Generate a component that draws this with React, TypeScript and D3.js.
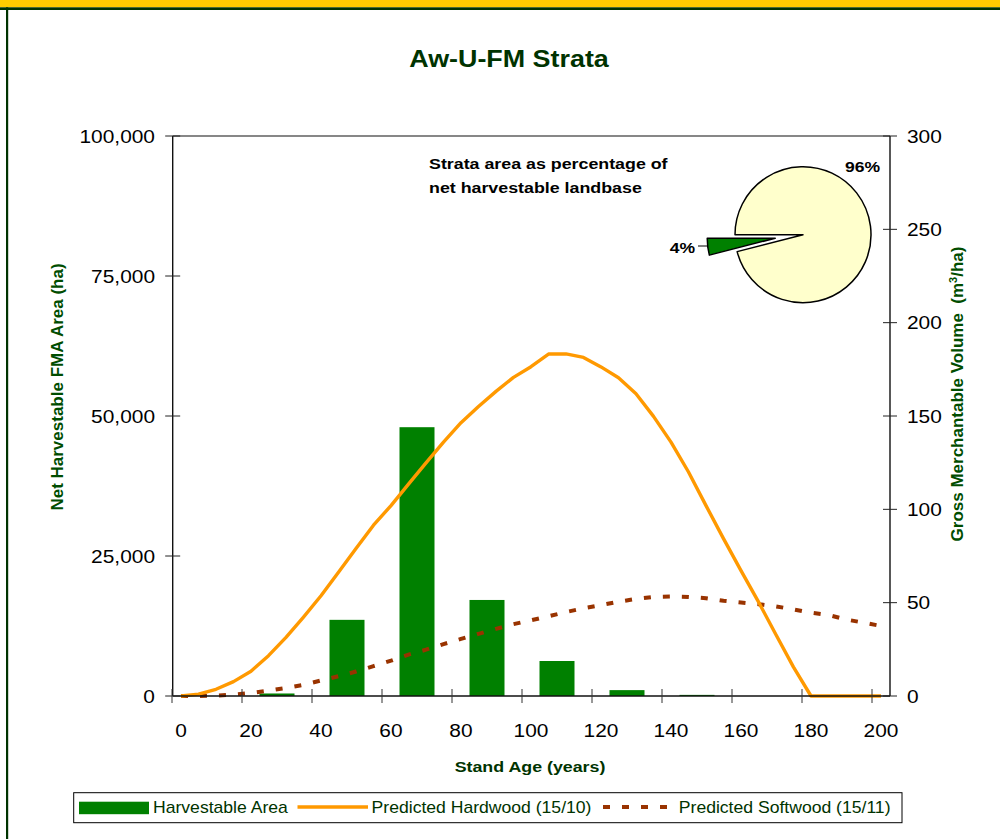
import React from "react";
import * as d3 from "d3";

// ---- data ----
const ageClasses = ["0-20", "20-40", "40-60", "60-80", "80-100", "100-120", "120-140", "140-160", "160-180", "180-200"];
const harvestableArea = [0, 450, 13600, 48000, 17150, 6250, 1050, 200, 0, 0];

const ages = [0, 5, 10, 15, 20, 25, 30, 35, 40, 45, 50, 55, 60, 65, 70, 75, 80, 85, 90, 95, 100,
  105, 110, 115, 120, 125, 130, 135, 140, 145, 150, 155, 160, 165, 170, 175, 180, 185, 190, 195, 200];
const hardwood = [0, 1.0, 3.6, 7.7, 13.3, 21.6, 31.4, 42.3, 53.7, 66.3, 79, 91.5, 102, 113.5, 124.9, 136, 146.4, 155.1, 163.2, 170.7, 176.4,
  183.2, 183.3, 181.4, 176.3, 170.5, 161.9, 149.8, 136, 120, 102, 84.3, 67.2, 50.4, 32.8, 15.5, 0, 0, 0, 0, 0];
const softwood = [0, 0, 0.2, 0.8, 1.6, 2.9, 4.3, 6, 8.3, 10.6, 13.1, 16, 18.9, 22.2, 24.8, 27.8, 30.6, 33.3, 36, 38.5, 40.6,
  42.7, 45, 47, 48.7, 50.5, 52, 53.1, 53.3, 53.1, 52.4, 51, 50.1, 49.2, 48, 46.4, 44.6, 43.4, 41, 39.3, 37.5];

const xTickLabels = [0, 20, 40, 60, 80, 100, 120, 140, 160, 180, 200];
const leftTicks = [0, 25000, 50000, 75000, 100000];
const rightTicks = [0, 50, 100, 150, 200, 250, 300];

const pieValues = [96, 4];
const pieLabels = ["96%", "4%"];

const legendLabels = ["Harvestable Area", "Predicted Hardwood (15/10)", "Predicted Softwood (15/11)"];

// ---- styles ----
const FONT = "'Liberation Sans', Arial, Helvetica, sans-serif";
const GREEN = "#008000";
const ORANGE = "#FF9900";
const BROWN = "#993300";
const DARKGREEN = "#003300";
const TITLEGREEN = "#004d00";

type TProps = {
  x: number; y: number; size: number; sx?: number; rotate?: number; weight?: string | number;
  anchor?: "start" | "middle" | "end"; fill?: string; children: React.ReactNode;
};
function T({ x, y, size, sx = 1, rotate = 0, weight = "normal", anchor = "start", fill = "#000", children }: TProps) {
  return (
    <text
      transform={`translate(${x},${y}) rotate(${rotate}) scale(${sx},1)`}
      fontFamily={FONT}
      fontSize={size}
      fontWeight={weight}
      textAnchor={anchor}
      fill={fill}
      style={{ whiteSpace: "pre" }}
    >
      {children}
    </text>
  );
}

export default function App() {
  const W = 1000, H = 839;
  const left = 172.7, right = 890, top = 136, bottom = 696;

  const x = d3.scaleLinear().domain([0, 200]).range([181, 881]);
  const band = d3.scaleBand<string>().domain(ageClasses).range([172, 872]).paddingInner(0.5).paddingOuter(0.25);
  const yL = d3.scaleLinear().domain([0, 100000]).range([bottom, top]);
  const yR = d3.scaleLinear().domain([0, 300]).range([bottom, top]);

  const catTicks = d3.range(ageClasses.length + 1).map((i) => band.range()[0] + i * band.step());

  const lineGen = d3.line<number>().x((_, i) => x(ages[i])).y((d) => yR(d));

  const pieCx = 803, pieCy = 234.7, pieR = 68, explode = 28;
  const arcs = d3.pie<number>().sort(null).startAngle(-Math.PI / 2).endAngle((3 * Math.PI) / 2)(pieValues);
  const arcGen = d3.arc<d3.PieArcDatum<number>>().innerRadius(0).outerRadius(pieR);
  const pieFill = ["#FFFFCC", GREEN];

  const fmt = d3.format(",");

  return (
    <svg width={W} height={H} style={{ position: "absolute", left: 0, top: 0, background: "#fff" }}>
      {/* frame */}
      <rect x={0} y={0} width={W} height={7.3} fill="#FFCC00" />
      <rect x={0} y={7.3} width={W} height={2.7} fill={DARKGREEN} />
      <rect x={6} y={7.3} width={2.2} height={H} fill={DARKGREEN} />

      {/* title */}
      <T x={509} y={67} size={24} sx={1.12} weight="bold" anchor="middle" fill={DARKGREEN}>Aw-U-FM Strata</T>

      {/* plot border top */}
      <line x1={left} x2={right} y1={top} y2={top} stroke="#111" strokeWidth={1.2} />

      {/* bars */}
      {ageClasses.map((c, i) => (
        harvestableArea[i] > 0 ? (
          <rect key={c} x={band(c)!} width={band.bandwidth()} y={yL(harvestableArea[i])}
            height={bottom - yL(harvestableArea[i])} fill={GREEN} />
        ) : null
      ))}

      {/* lines */}
      <path d={lineGen(softwood)!} fill="none" stroke={BROWN} strokeWidth={4} strokeDasharray="7 12" />
      <path d={lineGen(hardwood)!} fill="none" stroke={ORANGE} strokeWidth={3.4} strokeLinejoin="round" />

      {/* axes */}
      <line x1={left} x2={left} y1={top} y2={bottom} stroke="#111" strokeWidth={1.4} />
      <line x1={right} x2={right} y1={top} y2={bottom} stroke="#111" strokeWidth={1.4} />
      <line x1={left} x2={right} y1={bottom} y2={bottom} stroke="#111" strokeWidth={1.4} />

      {leftTicks.map((v) => (
        <g key={"l" + v}>
          <line x1={left - 7.5} x2={left + 7.5} y1={yL(v)} y2={yL(v)} stroke="#222" strokeWidth={1} />
          <T x={155} y={yL(v) + 6.5} size={19} sx={1.1} anchor="end">{fmt(v)}</T>
        </g>
      ))}
      {rightTicks.map((v) => (
        <g key={"r" + v}>
          <line x1={right - 7} x2={right + 7} y1={yR(v)} y2={yR(v)} stroke="#222" strokeWidth={1} />
          <T x={907} y={yR(v) + 6.5} size={19} sx={1.1} anchor="start">{v}</T>
        </g>
      ))}
      {catTicks.map((t, i) => (
        <line key={"c" + i} x1={t} x2={t} y1={bottom - 7} y2={bottom + 7} stroke="#333" strokeWidth={1} />
      ))}
      {xTickLabels.map((v) => (
        <T key={"x" + v} x={x(v)} y={737} size={19} sx={1.1} anchor="middle">{v}</T>
      ))}

      {/* axis titles */}
      <T x={530} y={772} size={15.5} sx={1.15} weight="bold" anchor="middle" fill={DARKGREEN}>Stand Age (years)</T>
      <T x={63.3} y={387} size={17} rotate={-90} weight="bold" anchor="middle" fill={TITLEGREEN}>Net Harvestable FMA Area (ha)</T>
      <text transform={`translate(963,394) rotate(-90)`} fontFamily={FONT} fontSize={17} fontWeight="bold"
        textAnchor="middle" fill={TITLEGREEN} style={{ whiteSpace: "pre" }}>
        {"Gross Merchantable Volume  (m"}<tspan fontSize={11} dy={-6}>3</tspan><tspan dy={6}>/ha)</tspan>
      </text>

      {/* pie inset */}
      <T x={429} y={169.3} size={15.5} sx={1.15} weight="bold">Strata area as percentage of</T>
      <T x={429} y={193.3} size={15.5} sx={1.15} weight="bold">net harvestable landbase</T>
      {arcs.map((a, i) => {
        const mid = (a.startAngle + a.endAngle) / 2;
        const off = i === 1 ? explode : 0;
        const dx = Math.sin(mid) * off, dy = -Math.cos(mid) * off;
        return (
          <path key={"p" + i} d={arcGen(a)!} transform={`translate(${pieCx + dx},${pieCy + dy})`}
            fill={pieFill[i]} stroke="#000" strokeWidth={1.5} strokeLinejoin="round" />
        );
      })}
      <T x={845} y={172} size={15} sx={1.17} weight="bold">{pieLabels[0]}</T>
      <T x={695} y={252.7} size={15} sx={1.17} weight="bold" anchor="end">{pieLabels[1]}</T>
      <line x1={698} x2={707} y1={246} y2={246} stroke="#000" strokeWidth={1} />

      {/* legend */}
      <rect x={73.7} y={792.7} width={828.3} height={30} fill="#fff" stroke="#000" strokeWidth={1} />
      <rect x={79} y={801.7} width={70} height={12.5} fill={GREEN} />
      <T x={153} y={813.3} size={16} sx={1.1} fill={DARKGREEN}>{legendLabels[0]}</T>
      <line x1={297.5} x2={368} y1={807} y2={807} stroke={ORANGE} strokeWidth={3.4} />
      <T x={371.6} y={813.3} size={16} sx={1.1} fill={DARKGREEN}>{legendLabels[1]}</T>
      <line x1={603} x2={676} y1={807} y2={807} stroke={BROWN} strokeWidth={4} strokeDasharray="7 12" />
      <T x={678.8} y={813.3} size={16} sx={1.1} fill={DARKGREEN}>{legendLabels[2]}</T>
    </svg>
  );
}
